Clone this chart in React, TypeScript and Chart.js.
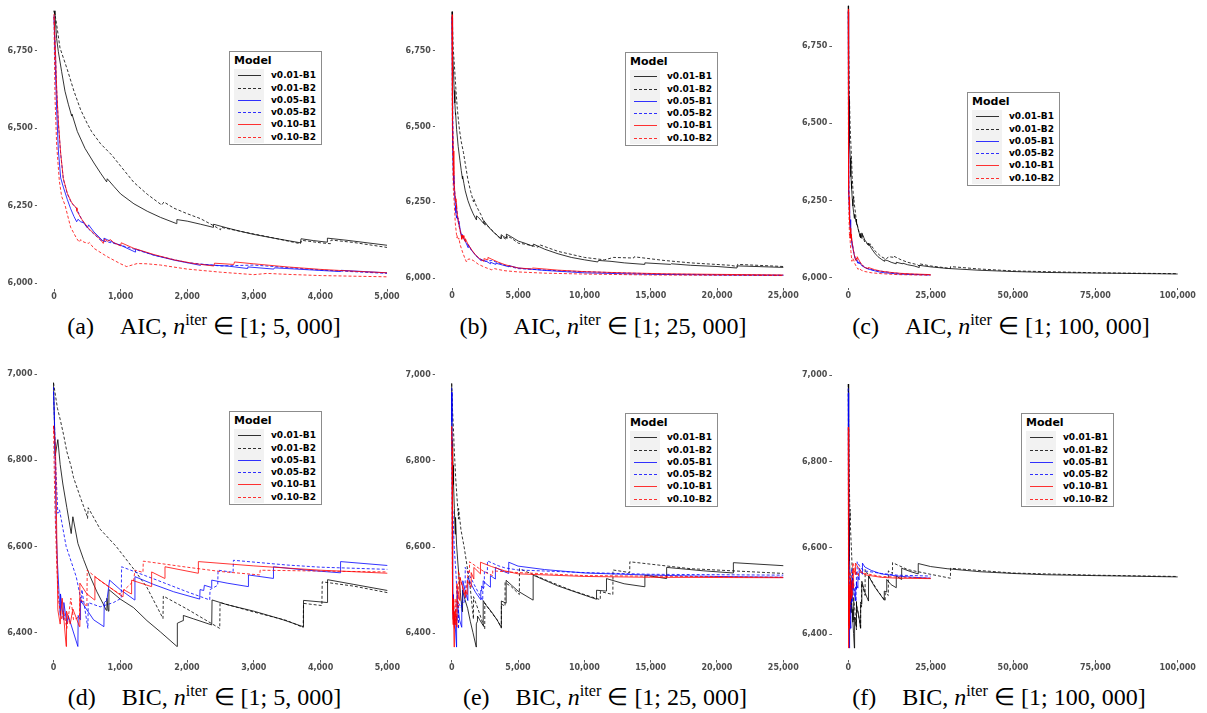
import React, { useEffect, useRef } from "react";
import { Chart, registerables } from "chart.js";
Chart.register(...registerables);

type Pt = [number, number];

const SERIES_NAMES = ["v0.01-B1", "v0.01-B2", "v0.05-B1", "v0.05-B2", "v0.10-B1", "v0.10-B2"];
const SERIES_COLORS = ["#000000", "#000000", "#0000ff", "#0000ff", "#ff0000", "#ff0000"];
const SERIES_DASHED = [false, true, false, true, false, true];

// ---------- AIC trajectories (iteration, value) ----------
const AIC_V001_B1: Pt[] = [
  [0, 6880], [15, 6866], [40, 6790], [65, 6748], [115, 6683], [165, 6620], [215, 6578], [265, 6540], [270, 6546],
  [350, 6490], [466, 6435], [600, 6388], [700, 6355], [790, 6327], [800, 6337], [900, 6312], [1000, 6288],
  [1200, 6256], [1400, 6232], [1600, 6212], [1840, 6192], [1845, 6205], [2000, 6200], [2200, 6190], [2390, 6180],
  [2395, 6190], [2600, 6178], [2800, 6167], [3000, 6157], [3300, 6145], [3700, 6130], [3710, 6143], [3900, 6137],
  [4100, 6132], [4105, 6145], [4400, 6138], [4700, 6130], [5000, 6122], [5500, 6115], [6100, 6105], [6150, 6112],
  [7000, 6095], [8000, 6080], [9000, 6068], [10000, 6060], [11000, 6053], [11050, 6058], [12000, 6055],
  [13000, 6050], [14500, 6045], [14550, 6050], [16500, 6045], [16550, 6047], [18000, 6042], [20000, 6038],
  [21500, 6033], [21550, 6040], [25000, 6035], [30000, 6030], [40000, 6024], [50000, 6020], [60000, 6017],
  [75000, 6015], [100000, 6012],
];
const AIC_V001_B2: Pt[] = [
  [0, 6880], [30, 6850], [90, 6760], [200, 6690], [300, 6620], [400, 6560], [500, 6515], [566, 6489], [700, 6450],
  [866, 6414], [1000, 6378], [1200, 6325], [1400, 6287], [1617, 6252], [1650, 6262], [1800, 6242], [2000, 6224],
  [2200, 6208], [2400, 6185], [2500, 6172], [2510, 6180], [2800, 6167], [3200, 6150], [3700, 6127], [3720, 6138],
  [4000, 6130], [4150, 6127], [4160, 6139], [4500, 6131], [5000, 6115], [5500, 6112], [6500, 6102], [6600, 6110],
  [8000, 6088], [10000, 6068], [11500, 6060], [12200, 6068], [13700, 6066], [13750, 6070], [16000, 6058],
  [18000, 6050], [21000, 6042], [21500, 6038], [21550, 6045], [25000, 6038], [31000, 6030], [31050, 6036],
  [40000, 6028], [50000, 6022], [75000, 6016], [100000, 6013],
];
const AIC_V005_B1: Pt[] = [
  [0, 6860], [20, 6700], [40, 6560], [65, 6430], [100, 6340], [140, 6310], [200, 6270], [250, 6240], [300, 6215],
  [340, 6198], [360, 6206], [400, 6198], [450, 6194], [500, 6178], [520, 6188], [600, 6165], [740, 6135],
  [750, 6145], [800, 6140], [900, 6130], [1000, 6122], [1220, 6100], [1225, 6110], [1500, 6090], [1800, 6074],
  [2200, 6057], [2210, 6060], [2600, 6055], [2900, 6047], [2910, 6052], [3300, 6045], [3310, 6049], [3800, 6043],
  [4300, 6037], [4310, 6041], [5000, 6033], [7000, 6025], [10000, 6017], [15000, 6012], [20000, 6010], [25000, 6009],
];
const AIC_V005_B2: Pt[] = [
  [0, 6865], [20, 6755], [40, 6625], [65, 6518], [100, 6418], [140, 6336], [200, 6288], [260, 6260], [340, 6240],
  [420, 6203], [516, 6175], [700, 6138], [900, 6128], [1200, 6110], [1500, 6090], [2000, 6066], [2500, 6055],
  [3000, 6058], [4000, 6042], [5000, 6031], [8000, 6024], [12000, 6018], [16000, 6013], [20000, 6011], [25000, 6009],
];
const AIC_V010_B1: Pt[] = [
  [0, 6870], [20, 6760], [40, 6630], [65, 6521], [100, 6420], [140, 6338], [200, 6290], [260, 6262], [300, 6250],
  [340, 6243], [345, 6232], [420, 6205], [516, 6177], [600, 6160], [700, 6140], [740, 6128], [760, 6142],
  [800, 6135], [850, 6140], [900, 6130], [1000, 6120], [1010, 6130], [1200, 6112], [1500, 6092], [1800, 6075],
  [2100, 6063], [2400, 6055], [2410, 6064], [2700, 6060], [2710, 6068], [3000, 6062], [3500, 6052], [4000, 6044],
  [4500, 6038], [5000, 6033], [6000, 6030], [6100, 6033], [8000, 6026], [10000, 6021], [13000, 6017],
  [16000, 6014], [20000, 6012], [25000, 6010],
];
const AIC_V010_B2: Pt[] = [
  [0, 6860], [15, 6600], [40, 6446], [80, 6330], [115, 6280], [165, 6252], [250, 6180], [340, 6144], [380, 6132],
  [400, 6140], [450, 6132], [516, 6128], [530, 6131], [600, 6112], [800, 6085], [1000, 6062], [1092, 6053],
  [1250, 6063], [1400, 6062], [1600, 6058], [2000, 6045], [2500, 6035], [3000, 6027], [3200, 6031], [3500, 6028],
  [4000, 6024], [5000, 6020], [7000, 6016], [10000, 6013], [15000, 6010], [20000, 6009], [25000, 6008],
];

// ---------- BIC trajectories (iteration, value) ----------
const BIC_V001_B1: Pt[] = [
  [0, 6980], [25, 6810], [65, 6848], [100, 6790], [140, 6745], [200, 6690], [265, 6630], [290, 6669], [366, 6607],
  [450, 6570], [550, 6530], [650, 6495], [740, 6468], [790, 6452], [800, 6480], [820, 6450], [830, 6500],
  [1000, 6478], [1200, 6458], [1400, 6428], [1600, 6402], [1850, 6368], [1855, 6422], [1940, 6428], [1945, 6440],
  [2100, 6432], [2370, 6418], [2375, 6476], [2600, 6465], [3000, 6450], [3400, 6432], [3740, 6414], [3745, 6475],
  [4100, 6470], [4105, 6523], [4500, 6512], [5000, 6498], [6135, 6477], [6140, 6535], [8000, 6510],
  [10915, 6479], [10920, 6500], [11665, 6498], [11670, 6527], [13000, 6515], [14560, 6508], [14565, 6535],
  [16200, 6527], [16205, 6553], [19000, 6545], [21230, 6540], [21235, 6564], [25000, 6557], [30000, 6552],
  [40000, 6545], [50000, 6541], [60000, 6538], [75000, 6536], [100000, 6533],
];
const BIC_V001_B2: Pt[] = [
  [0, 6980], [60, 6920], [100, 6895], [150, 6860], [200, 6820], [265, 6785], [300, 6760], [400, 6715], [500, 6672],
  [510, 6665], [520, 6690], [700, 6640], [940, 6600], [1200, 6548], [1400, 6505], [1640, 6433], [1645, 6485],
  [2000, 6455], [2490, 6410], [2495, 6470], [3000, 6448], [3500, 6428], [3740, 6412], [3745, 6468], [4020, 6463],
  [4025, 6518], [4500, 6508], [5000, 6493], [5100, 6490], [5110, 6550], [7000, 6525], [9000, 6500],
  [11200, 6478], [11210, 6497], [12150, 6490], [12160, 6547], [13420, 6541], [13430, 6566], [18000, 6550],
  [25000, 6539], [31000, 6530], [31050, 6553], [50000, 6542], [75000, 6537], [100000, 6534],
];
const BIC_V005_B1: Pt[] = [
  [0, 6960], [15, 6890], [40, 6640], [60, 6560], [90, 6470], [100, 6440], [105, 6490], [150, 6430], [155, 6470],
  [200, 6420], [220, 6440], [365, 6368], [370, 6440], [400, 6430], [405, 6475], [600, 6430], [755, 6414],
  [760, 6470], [800, 6475], [840, 6522], [1000, 6500], [1215, 6476], [1220, 6530], [1500, 6512], [1800, 6495],
  [2190, 6478], [2195, 6500], [2250, 6498], [2260, 6510], [2365, 6505], [2370, 6522], [2600, 6515], [2915, 6507],
  [2920, 6534], [3290, 6526], [3295, 6553], [3800, 6545], [4295, 6539], [4300, 6565], [5000, 6556], [7000, 6548],
  [10000, 6540], [15000, 6535], [20000, 6532], [25000, 6530],
];
const BIC_V005_B2: Pt[] = [
  [0, 6970], [30, 6800], [65, 6677], [90, 6685], [190, 6600], [340, 6530], [420, 6470], [425, 6500], [515, 6410],
  [520, 6470], [700, 6460], [900, 6470], [1015, 6480], [1020, 6553], [1500, 6525], [2000, 6495], [2340, 6476],
  [2345, 6500], [2460, 6510], [2465, 6545], [2690, 6540], [2695, 6568], [3500, 6557], [4000, 6552], [5000, 6547],
  [10000, 6541], [15000, 6537], [25000, 6535],
];
const BIC_V010_B1: Pt[] = [
  [0, 6880], [30, 6830], [65, 6453], [100, 6420], [130, 6480], [190, 6368], [195, 6450], [250, 6420], [290, 6455],
  [390, 6414], [395, 6515], [500, 6490], [615, 6476], [620, 6530], [800, 6510], [1040, 6483], [1050, 6500],
  [1165, 6490], [1170, 6522], [1465, 6507], [1470, 6541], [1665, 6526], [1670, 6553], [2165, 6538], [2170, 6565],
  [3000, 6555], [4000, 6545], [5000, 6538], [10000, 6532], [15000, 6530], [25000, 6529],
];
const BIC_V010_B2: Pt[] = [
  [0, 6880], [20, 6700], [50, 6550], [80, 6470], [120, 6430], [150, 6450], [200, 6410], [260, 6480], [300, 6430],
  [390, 6437], [395, 6480], [500, 6460], [505, 6545], [700, 6520], [940, 6495], [1000, 6490], [1200, 6520],
  [1220, 6545], [1340, 6540], [1345, 6566], [2000, 6552], [2500, 6542], [3090, 6534], [3095, 6545], [4000, 6543],
  [5000, 6541], [10000, 6534], [25000, 6530],
];

const AIC_SERIES = [AIC_V001_B1, AIC_V001_B2, AIC_V005_B1, AIC_V005_B2, AIC_V010_B1, AIC_V010_B2];
const BIC_SERIES = [BIC_V001_B1, BIC_V001_B2, BIC_V005_B1, BIC_V005_B2, BIC_V010_B1, BIC_V010_B2];

const AIC_TICKS = [6000, 6250, 6500, 6750];
const BIC_TICKS = [6400, 6600, 6800, 7000];
const X_TICKS_5K = [0, 1000, 2000, 3000, 4000, 5000];
const X_TICKS_25K = [0, 5000, 10000, 15000, 20000, 25000];
const X_TICKS_100K = [0, 25000, 50000, 75000, 100000];

type PanelCfg = {
  key: string; metric: string; range: string; xMax: number; xTicks: number[]; yTicks: number[];
  series: Pt[][];
  canvas: { l: number; t: number; w: number; h: number };
  area: { l: number; r: number; t: number; b: number };
  xRef: [number, number]; yRef: [number, number, number, number];
  legend: { l: number; t: number }; caption: { cx: number; cy: number };
};

const PANELS: PanelCfg[] = [
  { key: "a", metric: "AIC", range: "5, 000", xMax: 5000, xTicks: X_TICKS_5K, yTicks: AIC_TICKS, series: AIC_SERIES,
    canvas: { l: 0, t: 0, w: 404, h: 306 }, area: { l: 37.4, r: 403.6, t: 0, b: 289 },
    xRef: [54, 387], yRef: [6000, 283, 6750, 51], legend: { l: 229, t: 51 }, caption: { cx: 204, cy: 326 } },
  { key: "b", metric: "AIC", range: "25, 000", xMax: 25000, xTicks: X_TICKS_25K, yTicks: AIC_TICKS, series: AIC_SERIES,
    canvas: { l: 400, t: 0, w: 404, h: 306 }, area: { l: 435.4, r: 800, t: 0, b: 288 },
    xRef: [452, 783.3], yRef: [6000, 278, 6750, 51], legend: { l: 625, t: 52 }, caption: { cx: 603, cy: 326 } },
  { key: "c", metric: "AIC", range: "100, 000", xMax: 100000, xTicks: X_TICKS_100K, yTicks: AIC_TICKS, series: AIC_SERIES,
    canvas: { l: 798, t: 0, w: 409, h: 306 }, area: { l: 831.8, r: 1207, t: 0, b: 287.5 },
    xRef: [848.3, 1177.7], yRef: [6000, 277.7, 6750, 46], legend: { l: 967, t: 92 }, caption: { cx: 1001, cy: 326 } },
  { key: "d", metric: "BIC", range: "5, 000", xMax: 5000, xTicks: X_TICKS_5K, yTicks: BIC_TICKS, series: BIC_SERIES,
    canvas: { l: 0, t: 360, w: 404, h: 316 }, area: { l: 37, r: 403.6, t: 365, b: 660 },
    xRef: [53.5, 387.3], yRef: [6400, 632.7, 6800, 460.3], legend: { l: 229, t: 411 }, caption: { cx: 204.5, cy: 697 } },
  { key: "e", metric: "BIC", range: "25, 000", xMax: 25000, xTicks: X_TICKS_25K, yTicks: BIC_TICKS, series: BIC_SERIES,
    canvas: { l: 400, t: 360, w: 404, h: 316 }, area: { l: 435.2, r: 800, t: 365, b: 660 },
    xRef: [451.7, 783.3], yRef: [6400, 633.3, 6800, 461], legend: { l: 625, t: 413 }, caption: { cx: 605, cy: 697 } },
  { key: "f", metric: "BIC", range: "100, 000", xMax: 100000, xTicks: X_TICKS_100K, yTicks: BIC_TICKS, series: BIC_SERIES,
    canvas: { l: 798, t: 360, w: 409, h: 316 }, area: { l: 831.8, r: 1207, t: 365, b: 660 },
    xRef: [848.3, 1177.7], yRef: [6400, 634.3, 6800, 461.7], legend: { l: 1021, t: 413 }, caption: { cx: 999, cy: 697 } },
];

Chart.defaults.font.family = "'DejaVu Sans', sans-serif";

const fmt = (v: number) => Number(v).toLocaleString("en-US");
const TICK_FONT = { size: 8, weight: "bold" as const };
const TICK_COLOR = "#4d4d4d";

function Panel({ cfg }: { cfg: PanelCfg }) {
  const ref = useRef<HTMLCanvasElement | null>(null);
  useEffect(() => {
    const c = cfg.canvas, a = cfg.area;
    const sx = (cfg.xRef[1] - cfg.xRef[0]) / cfg.xMax;
    const xMin = (a.l - cfg.xRef[0]) / sx;
    const xMaxS = (a.r - cfg.xRef[0]) / sx;
    const [vA, pA, vB, pB] = cfg.yRef;
    const sy = (pA - pB) / (vB - vA);
    const yMaxS = vA + (pA - a.t) / sy;
    const yMinS = vA - (a.b - pA) / sy;
    const datasets = cfg.series.map((s, i) => ({
      label: SERIES_NAMES[i],
      data: s.filter((p) => p[0] <= cfg.xMax).map(([x, y]) => ({ x, y })),
      borderColor: SERIES_COLORS[i],
      borderWidth: 0.8,
      borderDash: SERIES_DASHED[i] ? [3, 2] : [],
      pointRadius: 0,
      fill: false,
      tension: 0,
      order: 5 - i,
    }));
    const zeroPad = (s: any) => {
      s.paddingTop = 0; s.paddingBottom = 0; s.paddingLeft = 0; s.paddingRight = 0;
    };
    const chart = new Chart(ref.current as HTMLCanvasElement, {
      type: "line",
      data: { datasets } as any,
      options: {
        animation: false,
        responsive: false,
        events: [],
        layout: { padding: { left: 0, top: a.t - c.t, right: c.l + c.w - a.r, bottom: 0 } },
        plugins: { legend: { display: false }, tooltip: { enabled: false } },
        scales: {
          x: {
            type: "linear", min: xMin, max: xMaxS,
            afterBuildTicks: (s: any) => { s.ticks = cfg.xTicks.map((v) => ({ value: v })); },
            afterFit: (s: any) => { s.height = c.t + c.h - a.b; zeroPad(s); },
            grid: { drawOnChartArea: false, drawTicks: true, tickLength: 2.5, color: "#333333", lineWidth: 0.8 },
            border: { display: false },
            ticks: { font: TICK_FONT, color: TICK_COLOR, padding: 1, maxRotation: 0, autoSkip: false, callback: (v: any) => fmt(v) },
          },
          y: {
            type: "linear", min: yMinS, max: yMaxS,
            afterBuildTicks: (s: any) => { s.ticks = cfg.yTicks.map((v) => ({ value: v })); },
            afterFit: (s: any) => { s.width = a.l - c.l; zeroPad(s); },
            grid: { drawOnChartArea: false, drawTicks: true, tickLength: 2.5, color: "#333333", lineWidth: 0.8 },
            border: { display: false },
            ticks: { font: TICK_FONT, color: TICK_COLOR, padding: 2, autoSkip: false, callback: (v: any) => fmt(v) },
          },
        },
      } as any,
    });
    return () => chart.destroy();
  }, [cfg]);
  return (
    <canvas
      ref={ref}
      width={cfg.canvas.w}
      height={cfg.canvas.h}
      style={{ position: "absolute", left: cfg.canvas.l, top: cfg.canvas.t, width: cfg.canvas.w, height: cfg.canvas.h }}
    />
  );
}

function Legend({ l, t }: { l: number; t: number }) {
  return (
    <div style={{ position: "absolute", left: l, top: t, width: 93, height: 94, border: "1px solid #8c8c8c", background: "#ffffff", boxSizing: "border-box", fontFamily: "'DejaVu Sans', sans-serif", color: "#000" }}>
      <div style={{ position: "absolute", left: 4, top: 2, fontSize: 11, fontWeight: "bold", lineHeight: "13px" }}>Model</div>
      <div style={{ position: "absolute", left: 4, top: 17, width: 30, height: 74, background: "#f2f2f2" }} />
      {SERIES_NAMES.map((name, i) => {
        const cy = Math.round(17 + 6.2 + i * 12.3);
        const col = SERIES_COLORS[i];
        return (
          <React.Fragment key={name}>
            <div style={{
              position: "absolute", left: 8, top: cy, width: 23, height: 1,
              background: SERIES_DASHED[i] ? `repeating-linear-gradient(90deg, ${col} 0px, ${col} 3px, transparent 3px, transparent 5px)` : col,
              opacity: 0.8,
            }} />
            <div style={{ position: "absolute", left: 41, top: cy - 6, fontSize: 9, fontWeight: "bold", lineHeight: "12px", whiteSpace: "nowrap" }}>{name}</div>
          </React.Fragment>
        );
      })}
    </div>
  );
}

function Caption({ cfg }: { cfg: PanelCfg }) {
  return (
    <div style={{
      position: "absolute", left: cfg.caption.cx - 200, top: cfg.caption.cy - 15, width: 400, height: 30,
      textAlign: "center", fontFamily: "'Liberation Serif', serif", fontSize: 24, lineHeight: "30px", whiteSpace: "nowrap", color: "#000",
    }}>
      ({cfg.key})<span style={{ display: "inline-block", width: 26 }} />{cfg.metric}, <i>n</i>
      <sup style={{ fontSize: "0.68em", verticalAlign: "0.55em", lineHeight: 0 }}>iter</sup> ∈ [1; {cfg.range}]
    </div>
  );
}

export default function App() {
  return (
    <div style={{ position: "absolute", left: 0, top: 0, width: 1207, height: 713, background: "#ffffff", overflow: "hidden" }}>
      {PANELS.map((p) => <Panel key={p.key} cfg={p} />)}
      {PANELS.map((p) => <Legend key={"l" + p.key} l={p.legend.l} t={p.legend.t} />)}
      {PANELS.map((p) => <Caption key={"c" + p.key} cfg={p} />)}
    </div>
  );
}
